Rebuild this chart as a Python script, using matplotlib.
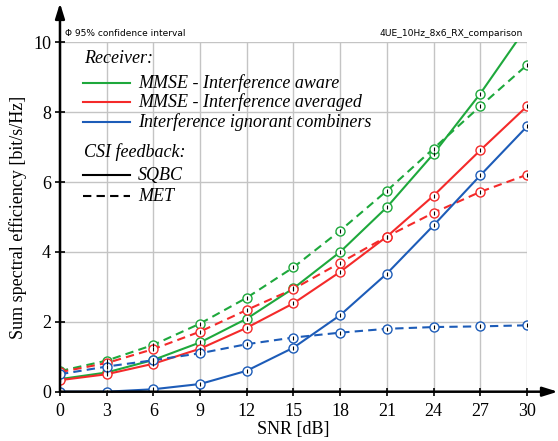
import matplotlib.pyplot as plt
from matplotlib.lines import Line2D

SERIF = "Liberation Serif"

snr_db = [0, 3, 6, 9, 12, 15, 18, 21, 24, 27, 30]

# sum spectral efficiency [bit/s/Hz] per receiver and CSI feedback scheme
aware_sqbc = [0.36, 0.55, 0.91, 1.41, 2.09, 2.96, 4.00, 5.28, 6.81, 8.53, 10.45]
aware_met = [0.59, 0.89, 1.34, 1.95, 2.69, 3.56, 4.61, 5.75, 6.96, 8.17, 9.35]
averaged_sqbc = [0.33, 0.50, 0.80, 1.23, 1.83, 2.53, 3.43, 4.44, 5.61, 6.91, 8.17]
averaged_met = [0.56, 0.82, 1.22, 1.72, 2.34, 2.94, 3.69, 4.44, 5.12, 5.72, 6.21]
ignorant_sqbc = [0.00, 0.00, 0.07, 0.22, 0.60, 1.26, 2.19, 3.38, 4.76, 6.19, 7.59]
ignorant_met = [0.50, 0.72, 0.90, 1.10, 1.36, 1.55, 1.69, 1.80, 1.85, 1.87, 1.90]

receivers = ["MMSE - Interference aware", "MMSE - Interference averaged",
             "Interference ignorant combiners"]
colors = ["#1ea83c", "#f42a2a", "#1d5cb8"]
feedback = ["SQBC", "MET"]

fig = plt.figure(figsize=(5.58, 4.41), dpi=100)
ax = fig.add_axes([0.1075, 0.1118, 0.8369, 0.7923])

series = [
    (aware_sqbc, aware_met),
    (averaged_sqbc, averaged_met),
    (ignorant_sqbc, ignorant_met),
]
for (sqbc, met), c in zip(series, colors):
    for vals, ls in ((sqbc, "-"), (met, "--")):
        line, = ax.plot(snr_db, vals, color=c, lw=1.5, ls=ls, marker="o", ms=6.5,
                        mfc="white", mec=c, mew=1.0, clip_on=True, zorder=3)
        if ls == "--":
            line.set_dashes((4, 2.5))
        # confidence interval tick inside each marker
        ax.plot(snr_db, vals, ls="none", marker="|", ms=3, mec="black", mew=0.8,
                zorder=4)

ax.set_xlim(0, 30)
ax.set_ylim(0, 10)
ax.set_xticks(snr_db)
ax.set_yticks([0, 2, 4, 6, 8, 10])
ax.grid(True, color="#c4c4c4", lw=1.0, zorder=0)
ax.set_axisbelow(True)
for s in ax.spines.values():
    s.set_visible(False)
ax.tick_params(axis="x", direction="inout", length=6, width=1.2, pad=5, labelsize=13)
ax.tick_params(axis="y", direction="inout", length=7, width=1.2, pad=3, labelsize=13)
for lbl in ax.get_xticklabels() + ax.get_yticklabels():
    lbl.set_fontfamily(SERIF)

ax.set_xlabel("SNR [dB]", fontfamily=SERIF, fontsize=13, labelpad=1)
ax.set_ylabel("Sum spectral efficiency [bit/s/Hz]", fontfamily=SERIF, fontsize=13,
              labelpad=4)

# arrow-headed axes
arrow = dict(arrowstyle="-|>,head_length=0.9,head_width=0.28", color="black",
             lw=1.8, shrinkA=0, shrinkB=0)
ax.annotate("", xy=(0, 1.112), xytext=(0, 0), xycoords="axes fraction",
            arrowprops=arrow, annotation_clip=False)
ax.annotate("", xy=(1.066, 0), xytext=(0, 0), xycoords="axes fraction",
            arrowprops=arrow, annotation_clip=False)

ax.text(0.011, 1.025, "\u03a6 95% confidence interval", transform=ax.transAxes,
        fontsize=6.5, family="DejaVu Sans", va="center", ha="left")
ax.text(0.991, 1.025, "4UE_10Hz_8x6_RX_comparison", transform=ax.transAxes,
        fontsize=6.6, family="DejaVu Sans", va="center", ha="right")

# hand-built legend
lx0, lx1, tx = 0.049, 0.150, 0.167
leg_font = dict(fontfamily=SERIF, fontstyle="italic", fontsize=13, va="center",
                transform=ax.transAxes)
ax.text(0.051, 0.955, "Receiver:", ha="left", **leg_font)
for y, name, c in zip([0.883, 0.829, 0.772], receivers, colors):
    ax.add_line(Line2D([lx0, lx1], [y, y], color=c, lw=1.5, transform=ax.transAxes))
    ax.text(tx, y, name, ha="left", **leg_font)
ax.text(0.051, 0.686, "CSI feedback:", ha="left", **leg_font)
for y, name, ls in zip([0.620, 0.560], feedback, ["-", "--"]):
    ln = Line2D([lx0, lx1], [y, y], color="black", lw=1.5, ls=ls,
                transform=ax.transAxes)
    if ls == "--":
        ln.set_dashes((4, 2.5))
    ax.add_line(ln)
    ax.text(tx, y, name, ha="left", **leg_font)

fig.savefig("out.png", dpi=100)
